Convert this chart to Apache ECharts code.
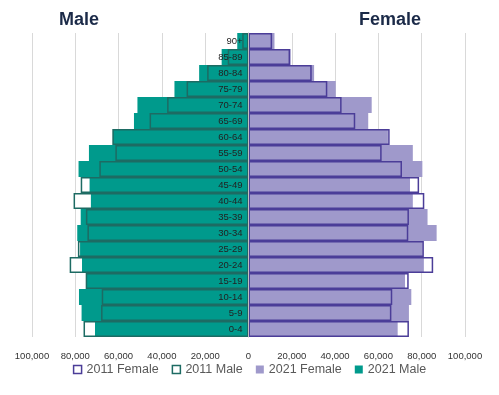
<!DOCTYPE html>
<html>
<head>
<meta charset="utf-8">
<script src="https://cdn.jsdelivr.net/npm/echarts@6/dist/echarts.min.js"></script>
<style>html,body{margin:0;padding:0;background:#fff}#c{width:499px;height:395px}</style>
</head>
<body>
<div id="c"></div>
<script>
const categories = ['0-4','5-9','10-14','15-19','20-24','25-29','30-34','35-39','40-44','45-49','50-54','55-59','60-64','65-69','70-74','75-79','80-84','85-89','90+'];
const male2021   = [70900,77100,78300,74900,76900,77800,79100,77500,72800,73400,78500,73700,62600,52900,51300,34200,22800,12400,5200];
const male2011   = [76200,68100,67800,75200,82600,78800,74400,75100,80800,77500,68900,61500,62900,45700,37600,28600,19100,9600,2900];
const female2021 = [68900,74100,75200,72300,81000,80500,86900,82700,75900,74600,80300,75900,64400,55300,56900,40300,30300,19500,12000];
const female2011 = [74100,66000,66400,74000,85300,81000,73800,74100,81200,78800,70900,61500,65200,49300,43000,36400,29200,19200,10900];
const xTicks = [-100000,-80000,-60000,-40000,-20000,0,20000,40000,60000,80000,100000];

const C = {
  teal: '#009a8c', tealDark: '#1d6b63',
  lilac: '#9f99cb', purpleDark: '#4b3d98'
};
const neg = a => a.map(v => -v);
const FONT = 'Liberation Sans';
const GRID_LEFT = 32, GRID_RIGHT = 34, W = 499;
const plotW = W - GRID_LEFT - GRID_RIGHT;

const chart = echarts.init(document.getElementById('c'), null, {renderer: 'canvas'});
const common = {type: 'bar', barGap: '-100%', barCategoryGap: '0%', silent: true, animation: false};
chart.setOption({
  animation: false,
  textStyle: {fontFamily: FONT},
  grid: {left: GRID_LEFT, right: GRID_RIGHT, top: 33, bottom: 58, containLabel: false},
  xAxis: {
    type: 'value', min: xTicks[0], max: xTicks[xTicks.length - 1], interval: 20000,
    axisLine: {show: false}, axisTick: {show: false},
    splitLine: {show: true, lineStyle: {color: '#d9d9d9', width: 1}},
    axisLabel: {
      fontSize: 9.5, color: '#333', margin: 14, fontFamily: FONT,
      formatter: v => Math.abs(v).toLocaleString('en-US')
    }
  },
  yAxis: {
    type: 'category', data: categories, z: 10, position: 'left', offset: -plotW / 2,
    axisLine: {show: true, onZero: false, lineStyle: {color: '#bfbfbf', width: 1}},
    axisTick: {show: false},
    axisLabel: {fontSize: 9.5, color: '#222', margin: 6, fontFamily: FONT}
  },
  legend: {
    bottom: 14, left: 'center', icon: 'rect', itemWidth: 8, itemHeight: 8, itemGap: 13,
    textStyle: {fontSize: 12.5, color: '#595959', fontFamily: FONT},
    data: [
      {name: '2011 Female', itemStyle: {color: '#fff', borderColor: C.purpleDark, borderWidth: 1.5}},
      {name: '2011 Male', itemStyle: {color: '#fff', borderColor: C.tealDark, borderWidth: 1.5}},
      {name: '2021 Female', itemStyle: {color: C.lilac, borderWidth: 0}},
      {name: '2021 Male', itemStyle: {color: C.teal, borderWidth: 0}}
    ]
  },
  graphic: [
    {type: 'text', x: 79, y: 20, style: {text: 'Male', align: 'center', verticalAlign: 'middle', font: 'bold 18px "Liberation Sans"', fill: '#1b2a48'}},
    {type: 'text', x: 390, y: 20, style: {text: 'Female', align: 'center', verticalAlign: 'middle', font: 'bold 18px "Liberation Sans"', fill: '#1b2a48'}}
  ],
  series: [
    Object.assign({}, common, {name: 'bgM', data: neg(male2011), itemStyle: {color: '#fff'}}),
    Object.assign({}, common, {name: 'bgF', data: female2011, itemStyle: {color: '#fff'}}),
    Object.assign({}, common, {name: '2021 Male', data: neg(male2021), itemStyle: {color: C.teal}}),
    Object.assign({}, common, {name: '2021 Female', data: female2021, itemStyle: {color: C.lilac}}),
    Object.assign({}, common, {name: '2011 Male', data: neg(male2011), itemStyle: {color: 'rgba(0,0,0,0)', borderColor: C.tealDark, borderWidth: 1.5}}),
    Object.assign({}, common, {name: '2011 Female', data: female2011, itemStyle: {color: 'rgba(0,0,0,0)', borderColor: C.purpleDark, borderWidth: 1.5}})
  ]
});
</script>
</body>
</html>
